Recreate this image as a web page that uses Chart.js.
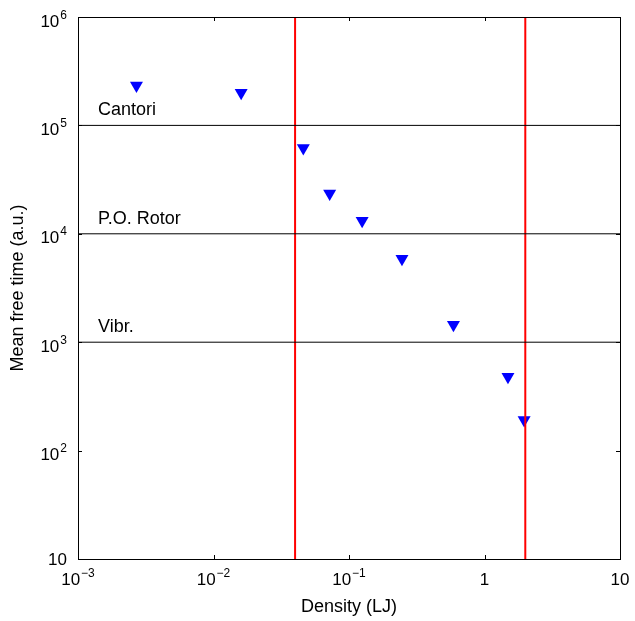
<!DOCTYPE html>
<html>
<head>
<meta charset="utf-8">
<script src="https://cdn.jsdelivr.net/npm/chart.js@4/dist/chart.umd.min.js"></script>
<style>
  html, body { margin: 0; padding: 0; background: #fff; }
  #wrap { width: 635px; height: 621px; }
</style>
</head>
<body>
<div id="wrap"><canvas id="myChart"></canvas></div>
<script>
// datos
const density = [0.0027, 0.016, 0.046, 0.072, 0.125, 0.246, 0.59, 1.49, 1.96];
const freeTime = [2.33e5, 2.0e5, 6.2e4, 2.35e4, 1.32e4, 5.9e3, 1.45e3, 480, 192];

// etiquetas: base ^ exponente
const xTicks = [1e-3, 1e-2, 1e-1, 1, 10];
const xTickLabels = ['10^−3', '10^−2', '10^−1', '1', '10'];
const yTicks = [10, 100, 1e3, 1e4, 1e5, 1e6];
const yTickLabels = ['10', '10^2', '10^3', '10^4', '10^5', '10^6'];

const regimeLevels = [1e5, 1e4, 1e3];
const regimeNames = ['Cantori', 'P.O. Rotor', 'Vibr.'];
const boundaries = [0.04, 2];

const xMin = 1e-3, xMax = 10, yMin = 10, yMax = 1e6;
const FONT = "'Liberation Sans', Arial, sans-serif";
const BASE = '17px ' + FONT, EXP = '12px ' + FONT;

Chart.defaults.font.family = FONT;
Chart.defaults.color = '#000';

// lineas horizontales y verticales
const hLines = regimeLevels.map(v => ({
  data: [{x: xMin, y: v}, {x: xMax, y: v}],
  showLine: true, borderColor: '#000', borderWidth: 1, pointRadius: 0
}));
const vLines = boundaries.map(v => ({
  data: [{x: v, y: yMin}, {x: v, y: yMax}],
  showLine: true, borderColor: '#ff0000', borderWidth: 2, pointRadius: 0
}));

// mide una etiqueta con exponente
function labelParts(ctx, txt) {
  const [base, exp] = txt.split('^');
  ctx.font = BASE;
  const wb = ctx.measureText(base).width;
  let we = 0;
  if (exp) { ctx.font = EXP; we = ctx.measureText(exp).width + 1; }
  return {base, exp, wb, we};
}

function drawLabel(ctx, p, x, baseline) {
  ctx.font = BASE;
  ctx.fillText(p.base, x, baseline);
  if (p.exp) {
    ctx.font = EXP;
    ctx.fillText(p.exp, x + p.wb + 1, baseline - 8);
  }
}

// caja, marcas, etiquetas de ejes y de regimen
const boxPlugin = {
  id: 'boxPlugin',
  afterDraw(chart) {
    const {ctx, chartArea: a, scales} = chart;
    ctx.save();
    ctx.strokeStyle = '#000';
    ctx.lineWidth = 1;
    ctx.strokeRect(Math.round(a.left) + 0.5, Math.round(a.top) + 0.5,
      Math.round(a.right - a.left), Math.round(a.bottom - a.top));
    ctx.beginPath();
    xTicks.forEach(v => {
      const px = Math.round(scales.x.getPixelForValue(v)) + 0.5;
      ctx.moveTo(px, a.bottom); ctx.lineTo(px, a.bottom - 4);
      ctx.moveTo(px, a.top); ctx.lineTo(px, a.top + 4);
    });
    yTicks.forEach(v => {
      const py = Math.round(scales.y.getPixelForValue(v)) + 0.5;
      ctx.moveTo(a.left, py); ctx.lineTo(a.left + 4, py);
      ctx.moveTo(a.right, py); ctx.lineTo(a.right - 4, py);
    });
    ctx.stroke();

    ctx.fillStyle = '#000';
    ctx.textAlign = 'left';
    ctx.textBaseline = 'alphabetic';
    xTicks.forEach((v, i) => {
      const p = labelParts(ctx, xTickLabels[i]);
      const px = scales.x.getPixelForValue(v);
      drawLabel(ctx, p, px - (p.wb + p.we) / 2, a.bottom + 26);
    });
    yTicks.forEach((v, i) => {
      const p = labelParts(ctx, yTickLabels[i]);
      const py = scales.y.getPixelForValue(v);
      const right = a.left - 11;
      drawLabel(ctx, p, right - p.wb - p.we, py + (p.exp ? 9.5 : 6));
    });

    ctx.font = '18px ' + FONT;
    regimeLevels.forEach((v, i) => {
      ctx.fillText(regimeNames[i], a.left + 20, scales.y.getPixelForValue(v) - 10);
    });
    ctx.restore();
  }
};

new Chart(document.getElementById('myChart'), {
  type: 'scatter',
  data: {
    datasets: [
      ...hLines,
      ...vLines,
      {
        data: density.map((d, i) => ({x: d, y: freeTime[i]})),
        backgroundColor: '#0000ff',
        borderColor: '#0000ff',
        borderWidth: 0,
        pointStyle: 'triangle',
        pointRotation: 180,
        pointRadius: 7.5
      }
    ]
  },
  options: {
    responsive: true,
    maintainAspectRatio: false,
    animation: false,
    layout: { padding: { top: 17, right: 15, left: 0, bottom: 0 } },
    plugins: { legend: { display: false }, tooltip: { enabled: false } },
    scales: {
      x: {
        type: 'logarithmic', min: xMin, max: xMax,
        afterBuildTicks: s => { s.ticks = xTicks.map(v => ({value: v})); },
        afterFit: s => { s.height = 62; },
        grid: { display: false },
        border: { display: false },
        ticks: { display: false },
        title: { display: true, text: 'Density (LJ)', font: { size: 18 },
          padding: { top: 0, bottom: 3 } }
      },
      y: {
        type: 'logarithmic', min: yMin, max: yMax,
        afterBuildTicks: s => { s.ticks = yTicks.map(v => ({value: v})); },
        afterFit: s => { s.width = 78; },
        grid: { display: false },
        border: { display: false },
        ticks: { display: false },
        title: { display: true, text: 'Mean free time (a.u.)', font: { size: 18 },
          padding: { top: 7, bottom: 0 } }
      }
    }
  },
  plugins: [boxPlugin]
});
</script>
</body>
</html>
